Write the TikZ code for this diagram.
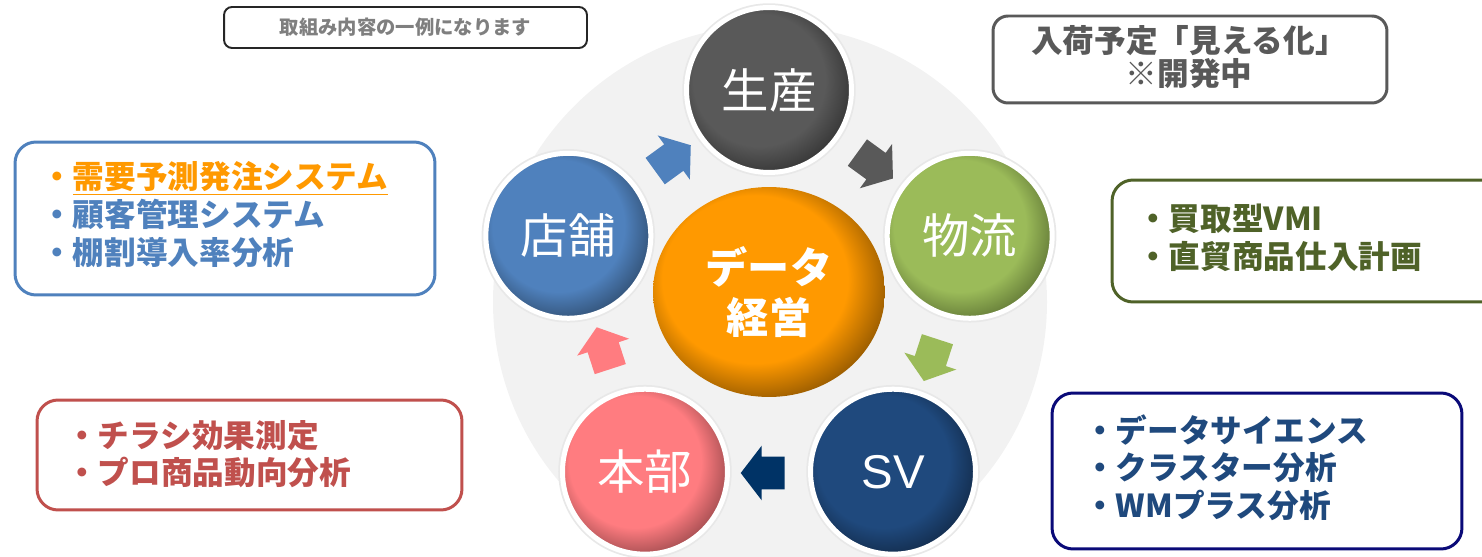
\documentclass[tikz,border=0pt]{standalone}
\usepackage{fontspec}
\setmainfont{Noto Sans CJK JP}
\newfontfamily\latsans{Liberation Sans}
\usetikzlibrary{shapes.arrows,shapes.geometric,calc}

\definecolor{cGray}{HTML}{595959}
\definecolor{cGrayD}{HTML}{2A2A2A}
\definecolor{cGreen}{HTML}{9BBB59}
\definecolor{cGreenD}{HTML}{52662D}
\definecolor{cNavy}{HTML}{1F497D}
\definecolor{cNavyD}{HTML}{0F233D}
\definecolor{cPink}{HTML}{FF7C80}
\definecolor{cPinkD}{HTML}{853E41}
\definecolor{cBlue}{HTML}{4F81BD}
\definecolor{cBlueD}{HTML}{29425F}
\definecolor{cOrange}{HTML}{FF9900}
\definecolor{cOrangeD}{HTML}{7A4900}
\definecolor{cOlive}{HTML}{4F6228}
\definecolor{cRed}{HTML}{C0504D}
\definecolor{cBorderNavy}{HTML}{0A0A78}
\definecolor{cArrowNavy}{HTML}{003366}
\definecolor{cBg}{HTML}{F2F2F2}
\definecolor{cTxtGray}{HTML}{7F7F7F}
\definecolor{cDark}{HTML}{262626}

\newcommand\mkshade[3]{\pgfdeclareradialshading{#1}{\pgfqpoint{-5bp}{5bp}}{color(0bp)=(#2); color(20bp)=(#2); color(31bp)=(#3); color(50bp)=(#3)}}
\mkshade{shGray}{cGray}{cGrayD}
\mkshade{shGreen}{cGreen}{cGreenD}
\mkshade{shNavy}{cNavy}{cNavyD}
\mkshade{shPink}{cPink}{cPinkD}
\mkshade{shBlue}{cBlue}{cBlueD}
\mkshade{shOrange}{cOrange}{cOrangeD}

\tikzset{
  sphere/.style={circle, minimum size=3.3cm, inner sep=0pt, shading=#1,
    draw=white, line width=0.1cm,
    preaction={draw=black!9, line width=0.17cm},
    text=white, font=\fontsize{27pt}{30pt}\selectfont},
  blockarrow/.style={single arrow, fill=#1, draw=none, minimum height=0.88cm,
    minimum width=1.08cm, inner xsep=0pt, inner ysep=0.32cm,
    single arrow head extend=0.22cm, single arrow tip angle=105},
  infobox/.style={rectangle, draw=#1, fill=white, line width=1.7pt,
    rounded corners=0.42cm, inner sep=0pt},
  infotext/.style={anchor=west, inner sep=0pt, align=left, text=#1,
    font=\bfseries\fontsize{18pt}{21.4pt}\selectfont},
}

\begin{document}
\begin{tikzpicture}[x=0.02cm, y=0.02cm]
\path[use as bounding box] (0,0) rectangle (1482,-557);
\clip (0,0) rectangle (1482,-557);

% background disc
\fill[cBg] (770,-302) circle (277);

\coordinate (C) at (769,-301);
\coordinate (pSeisan) at ($(C)+(90:211)$);
\coordinate (pButsu) at ($(C)+(18:211)$);
\coordinate (pSV) at ($(C)+(-54:211)$);
\coordinate (pHonbu) at ($(C)+(-126:211)$);
\coordinate (pTenpo) at ($(C)+(162:211)$);

\node[sphere=shGray] (seisan) at (pSeisan) {生産};
\node[sphere=shGreen] (butsuryu) at (pButsu) {物流};
\node[sphere=shNavy] (sv) at (pSV) {\latsans\fontsize{27pt}{30pt}\selectfont SV};
\node[sphere=shPink] (honbu) at (pHonbu) {本部};
\node[sphere=shBlue] (tenpo) at (pTenpo) {店舗};

\node[ellipse, minimum width=4.64cm, minimum height=4.2cm, inner sep=0pt,
  shading=shOrange, text=white, align=center,
  font=\bfseries\fontsize{24pt}{28.3pt}\selectfont] (core) at (769,-292) {データ\\経営};

% cycle arrows
\node[blockarrow=cBlue, rotate=36] (a1) at ($(C)+(126:172)$) {};
\node[blockarrow=cGray, rotate=-36] (a2) at ($(C)+(54:172)$) {};
\node[blockarrow=cGreen, rotate=-108] (a3) at ($(C)+(-18:172)$) {};
\node[blockarrow=cArrowNavy, rotate=180] (a4) at ($(C)+(-90:172)$) {};
\node[blockarrow=cPink, rotate=108] (a5) at ($(C)+(198:172)$) {};

% note box top-left
\node[rectangle, draw=cDark, fill=white, line width=1.1pt, rounded corners=0.16cm,
  minimum width=7.26cm, minimum height=0.82cm, inner sep=0pt,
  text=cTxtGray, font=\bfseries\fontsize{11pt}{13pt}\selectfont] (note) at (405.5,-27.5) {取組み内容の一例になります};

% top-right box
\node[infobox=cGray, rounded corners=0.3cm, minimum width=7.88cm, minimum height=1.74cm] (nyuka) at (1190,-59.5) {};
\node[inner sep=0pt, align=center, text=cGray,
  font=\bfseries\fontsize{18pt}{18.9pt}\selectfont] (nyukat) at (1189,-57) {入荷予定「見える化」\\※開発中};

% blue box
\node[infobox=cBlue, minimum width=8.4cm, minimum height=3.06cm] (bluebox) at (225,-218.5) {};
\node[infotext=cBlue] (bluet) at (41,-214.5) {{\color{cOrange}・\underline{需要予測発注システム}}\\・顧客管理システム\\・棚割導入率分析};

% green box
\node[infobox=cOlive, minimum width=8.16cm, minimum height=2.44cm] (greenbox) at (1316,-241) {};
\node[infotext=cOlive] (greent) at (1137,-238) {・買取型VMI\\・直貿商品仕入計画};

% red box
\node[infobox=cRed, minimum width=8.5cm, minimum height=2.2cm] (redbox) at (249.5,-455) {};
\node[infotext=cRed] (redt) at (66,-454) {・チラシ効果測定\\・プロ商品動向分析};

% navy box
\node[infobox=cBorderNavy, minimum width=8.2cm, minimum height=3.12cm] (navybox) at (1257,-471) {};
\node[infotext=cNavy] (navyt) at (1084,-467.5) {・データサイエンス\\・クラスター分析\\・WMプラス分析};
\end{tikzpicture}
\end{document}
